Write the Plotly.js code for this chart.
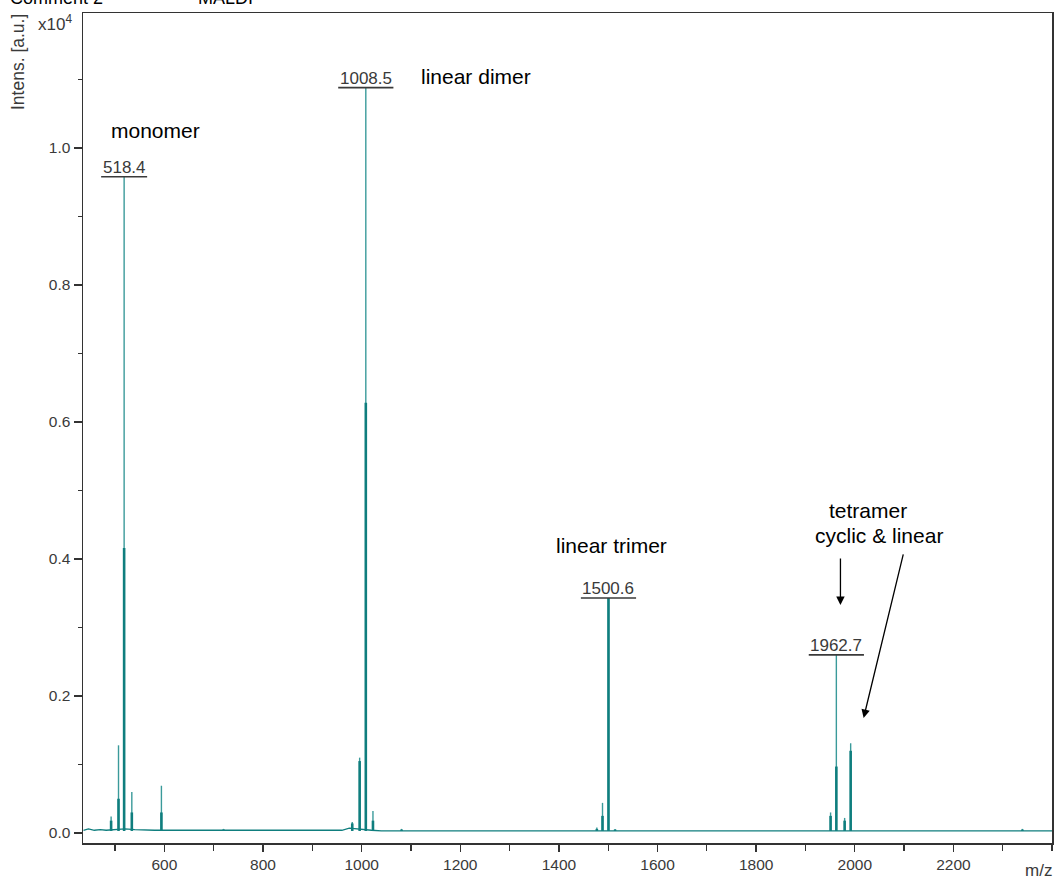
<!DOCTYPE html>
<html>
<head>
<meta charset="utf-8">
<script src="https://cdn.plot.ly/plotly-3.0.1.min.js"></script>
<style>
  html, body { margin: 0; padding: 0; background: #ffffff; }
  #chart { width: 1056px; height: 879px; }
</style>
</head>
<body>
<div id="chart"></div>
<script>
// MALDI spectrum: intensities in units of 10^4 a.u.

// Baseline noise of the spectrum
const baselineMz = [436, 446, 458, 470, 482, 500, 520, 540, 560, 580, 600, 620, 640, 660, 680,
  700, 720, 740, 760, 780, 790, 800, 820, 840, 860, 880, 900, 920, 940, 960, 975, 1000, 1020,
  1040, 1060, 1080, 1100, 1120, 1140, 1160, 1180, 1200, 1220, 1240, 1260, 1280, 1300, 1320,
  1340, 1360, 1380, 1400, 1420, 1440, 1460, 1480, 1500, 1520, 1540, 1560, 1580, 1600, 1620,
  1640, 1660, 1680, 1700, 1720, 1740, 1760, 1780, 1800, 1820, 1840, 1860, 1880, 1900, 1920,
  1940, 1960, 1980, 2000, 2020, 2040, 2060, 2080, 2100, 2120, 2140, 2160, 2180, 2200, 2220,
  2240, 2260, 2280, 2300, 2320, 2340, 2360, 2380, 2400];
const baselineInt = [0.004, 0.006, 0.004, 0.005, 0.004, 0.005, 0.006, 0.005, 0.004, 0.004, 0.004, 0.004, 0.003, 0.003, 0.003,
  0.003, 0.004, 0.003, 0.003, 0.003, 0.004, 0.003, 0.003, 0.003, 0.003, 0.003, 0.003, 0.003, 0.003, 0.004, 0.007, 0.005, 0.004,
  0.003, 0.003, 0.004, 0.003, 0.003, 0.003, 0.003, 0.003, 0.003, 0.003, 0.003, 0.003, 0.003, 0.003, 0.003,
  0.003, 0.003, 0.003, 0.003, 0.003, 0.003, 0.003, 0.004, 0.004, 0.003, 0.003, 0.003, 0.003, 0.003, 0.003,
  0.003, 0.003, 0.003, 0.003, 0.003, 0.003, 0.003, 0.003, 0.003, 0.003, 0.003, 0.003, 0.003, 0.003, 0.003,
  0.004, 0.004, 0.004, 0.004, 0.003, 0.003, 0.003, 0.003, 0.003, 0.003, 0.003, 0.003, 0.003, 0.003, 0.003,
  0.003, 0.003, 0.003, 0.003, 0.003, 0.003, 0.003, 0.003, 0.003];

// Peaks: position, apex intensity and the intensity of the dense lower part
const peakMz   = [492, 507, 518.4, 534, 594, 720, 981, 996, 1008.5, 1023, 1081, 1477, 1488.5, 1500.6, 1514, 1951, 1962.7, 1979.5, 1991.7, 2340];
const peakTop  = [0.024, 0.128, 0.958, 0.060, 0.069, 0.006, 0.016, 0.110, 1.088, 0.032, 0.006, 0.008, 0.044, 0.343, 0.006, 0.030, 0.260, 0.022, 0.131, 0.006];
const peakBody = [0.018, 0.050, 0.416, 0.030, 0.030, 0.005, 0.014, 0.105, 0.628, 0.018, 0.005, 0.006, 0.025, 0.343, 0.005, 0.025, 0.097, 0.018, 0.120, 0.005];

// Labelled peaks
const labelMz = [518.4, 1008.5, 1500.6, 1962.7];
const labelText = ['518.4', '1008.5', '1500.6', '1962.7'];

// Axis ticks
const xTickVals = [600, 800, 1000, 1200, 1400, 1600, 1800, 2000, 2200];
const yTickVals = [0.0, 0.2, 0.4, 0.6, 0.8, 1.0];

const teal = '#0f7e7e';
const tealLight = '#3a9a9a';

function sticks(xs, ys, base) {
  const x = [], y = [];
  xs.forEach((m, i) => { x.push(m, m, null); y.push(base, ys[i], null); });
  return { x, y };
}

const apex = sticks(peakMz, peakTop, 0.003);
const body = sticks(peakMz, peakBody, 0.003);

const traces = [
  { type: 'scatter', mode: 'lines', x: baselineMz, y: baselineInt,
    line: { color: teal, width: 1.3 }, hoverinfo: 'skip', showlegend: false },
  { type: 'scatter', mode: 'lines', x: apex.x, y: apex.y,
    line: { color: tealLight, width: 1.4 }, hoverinfo: 'skip', showlegend: false },
  { type: 'scatter', mode: 'lines', x: body.x, y: body.y,
    line: { color: teal, width: 2.6 }, hoverinfo: 'skip', showlegend: false }
];

const fam = 'Liberation Sans, Arial, sans-serif';
const labelFont = { family: fam, size: 17, color: '#3a3a3a' };
const noteFont = { family: fam, size: 21, color: '#000000' };

const shapes = [];
const annotations = [];
labelMz.forEach((m, i) => {
  const h = peakTop[peakMz.indexOf(m)];
  const half = labelText[i].length * 4.6;
  shapes.push({ type: 'line', xref: 'x', yref: 'y', xsizemode: 'pixel', xanchor: m,
    x0: -half, x1: half, y0: h, y1: h, line: { color: '#3a3a3a', width: 1.6 } });
  annotations.push({ x: m, y: h, xref: 'x', yref: 'y', text: labelText[i], showarrow: false,
    xanchor: 'center', yanchor: 'bottom', yshift: -2, font: labelFont });
});

annotations.push(
  { x: 581, y: 1.025, xref: 'x', yref: 'y', text: 'monomer', showarrow: false, font: noteFont },
  { x: 1232, y: 1.104, xref: 'x', yref: 'y', text: 'linear dimer', showarrow: false, font: noteFont },
  { x: 1507, y: 0.420, xref: 'x', yref: 'y', text: 'linear trimer', showarrow: false, font: noteFont },
  { x: 2026, y: 0.4715, xref: 'x', yref: 'y', text: 'tetramer', showarrow: false, font: noteFont },
  { x: 2050, y: 0.4336, xref: 'x', yref: 'y', text: 'cyclic &amp; linear', showarrow: false, font: noteFont },
  { x: 1971, y: 0.333, xref: 'x', yref: 'y', ax: 0, ay: -48, axref: 'pixel', ayref: 'pixel',
    showarrow: true, arrowhead: 2, arrowsize: 1.3, arrowwidth: 1.3, arrowcolor: '#000', text: '' },
  { x: 2018, y: 0.168, xref: 'x', yref: 'y', ax: 40, ay: -165, axref: 'pixel', ayref: 'pixel',
    showarrow: true, arrowhead: 2, arrowsize: 1.3, arrowwidth: 1.3, arrowcolor: '#000', text: '' },
  // axis captions
  { xref: 'paper', yref: 'paper', x: 0, y: 1, xanchor: 'right', yanchor: 'top', xshift: -9, yshift: 3,
    text: 'x10<sup>4</sup>', showarrow: false,
    font: { family: fam, size: 17, color: '#3a3a3a' } },
  { xref: 'paper', yref: 'paper', x: 0, y: 1, xanchor: 'center', yanchor: 'top', xshift: -65, yshift: 1,
    text: 'Intens. [a.u.]', textangle: -90, showarrow: false,
    font: { family: fam, size: 17.5, color: '#3a3a3a' } },
  { xref: 'paper', yref: 'paper', x: 1, y: 0, xanchor: 'right', yanchor: 'top', xshift: 2, yshift: -16,
    text: 'm/z', showarrow: false,
    font: { family: fam, size: 17, color: '#3a3a3a' } },
  { xref: 'paper', yref: 'paper', x: 0, y: 1, xanchor: 'left', yanchor: 'bottom', xshift: -75, yshift: 3,
    text: 'Comment 2', showarrow: false,
    font: { family: fam, size: 18, color: '#000' } },
  { xref: 'paper', yref: 'paper', x: 0, y: 1, xanchor: 'left', yanchor: 'bottom', xshift: 113, yshift: 3,
    text: 'MALDI', showarrow: false,
    font: { family: fam, size: 18, color: '#000' } }
);

const tickFont = { family: fam, size: 15.5, color: '#3a3a3a' };

const layout = {
  width: 1056, height: 879,
  margin: { l: 83, r: 4, t: 13, b: 36 },
  paper_bgcolor: '#ffffff', plot_bgcolor: '#ffffff',
  showlegend: false,
  xaxis: {
    range: [435, 2400], showgrid: false, zeroline: false,
    showline: true, linecolor: '#333', linewidth: 1.5, mirror: true,
    ticks: 'outside', ticklen: 7, tickwidth: 1.3, tickcolor: '#333',
    tickmode: 'array', tickvals: xTickVals, ticktext: xTickVals.map(String),
    tickfont: tickFont,
    minor: { ticks: 'outside', dtick: 100, tick0: 0, ticklen: 6, tickwidth: 1.3, tickcolor: '#333', showgrid: false }
  },
  yaxis: {
    range: [-0.0146, 1.197], showgrid: false, zeroline: false,
    showline: true, linecolor: '#333', linewidth: 1.5, mirror: true,
    ticks: 'outside', ticklen: 8, tickwidth: 1.3, tickcolor: '#333',
    tickmode: 'array', tickvals: yTickVals, ticktext: yTickVals.map(v => v.toFixed(1)),
    tickfont: tickFont,
    minor: { ticks: 'outside', dtick: 0.1, tick0: 0, ticklen: 4, tickwidth: 1.2, tickcolor: '#333', showgrid: false }
  },
  shapes: shapes,
  annotations: annotations
};

Plotly.newPlot('chart', traces, layout, { staticPlot: true, displayModeBar: false });
</script>
</body>
</html>
